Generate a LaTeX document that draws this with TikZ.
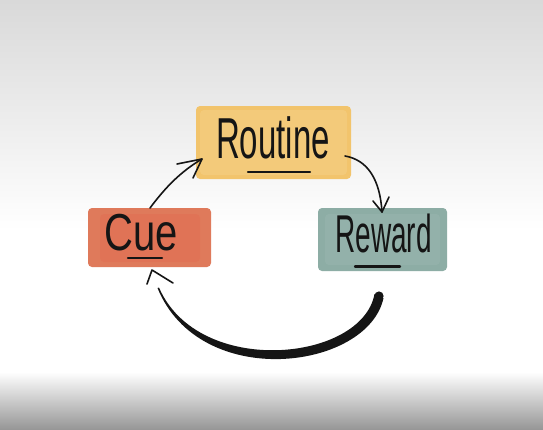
\documentclass[tikz,border=0pt]{standalone}
\usepackage{fontspec}
\setmainfont{Liberation Sans}
\usetikzlibrary{calc}
\definecolor{routinec}{HTML}{F2C46C}
\definecolor{cuec}{HTML}{DF7A5B}
\definecolor{rewardc}{HTML}{8DADA5}
\definecolor{ink}{HTML}{151515}
\definecolor{topgray}{HTML}{D9D9D9}
\definecolor{botgray}{HTML}{979797}
\tikzset{
  patch/.style={rounded corners=4pt, draw=none},
  word/.style={anchor=base, text=ink, inner sep=0pt},
  uline/.style={draw=ink, line width=2.4pt, line cap=round},
  thinarrow/.style={draw=ink, line width=1.6pt, line cap=round, line join=round},
}
\begin{document}
\begin{tikzpicture}[x=1pt,y=-1pt]
\useasboundingbox (0,0) rectangle (543,429);
% background
\fill[white] (0,0) rectangle (543,429);
\shade[top color=topgray, bottom color=white] (0,0) rectangle (543,230);
\shade[top color=white, bottom color=botgray] (0,372) rectangle (543,429);

% patches
\fill[patch, routinec] (196,106) rectangle (351,179);
\fill[patch, routinec!80!white, opacity=0.5] (200,110) rectangle (347,175);
\fill[patch, cuec] (88,208) rectangle (211,267);
\fill[patch, cuec!80!red, opacity=0.25] (100,214) rectangle (200,262);
\fill[patch, rewardc] (318,208) rectangle (447,271);
\fill[patch, rewardc!85!white, opacity=0.4] (325,214) rectangle (440,265);

% words
\node[word, font=\fontsize{33}{33}\selectfont] (routine) at (273,158) {\scalebox{1}[1.75]{Routine}};
\node[word, font=\fontsize{40}{40}\selectfont] (cue) at (141.5,250) {\scalebox{1}[1.3]{Cue}};
\node[word, font=\fontsize{28}{28}\selectfont] (reward) at (383.5,252) {\scalebox{1}[1.9]{Reward}};

% underlines
\draw[uline] (248,172) -- (310,172);
\draw[uline] (128,258) -- (162,258);
\draw[uline] (355,266.5) -- (400,266.5);

% connector anchors
\coordinate (c1s) at (150,208);
\coordinate (c1e) at (202,159);
\coordinate (c2s) at (345,156);
\coordinate (c2e) at (382,212);

% Cue -> Routine
\draw[thinarrow] (c1s) .. controls (165,188) and (180,172) .. (c1e);
\draw[thinarrow] (177,164) -- (c1e) -- (193,178);
% Routine -> Reward
\draw[thinarrow] (c2s) .. controls (368,160) and (380,180) .. (c2e);
\draw[thinarrow] (373,201) -- (c2e) -- (389,197);

% Reward -> Cue (tapered stroke)
\coordinate (c3s) at (379,296);
\coordinate (c3e) at (158,288);
\fill[ink] (383.5,298) .. controls (368,370) and (200,392) .. (157.5,288)
  -- (159,287.5) .. controls (198,378) and (362,362) .. (374.5,294) -- cycle;
\fill[ink] (c3s) circle (4.6);
\draw[thinarrow] (147,284) -- (152,270) -- (173,283);
\end{tikzpicture}
\end{document}
